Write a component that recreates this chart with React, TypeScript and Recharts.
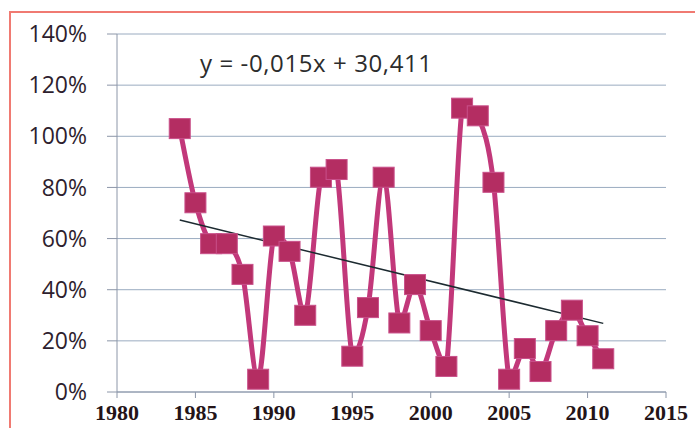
import React from 'react';
import { LineChart, Line, XAxis, YAxis, CartesianGrid } from 'recharts';

// Yearly share, 1984-2011
const years = [
  1984, 1985, 1986, 1987, 1988, 1989, 1990, 1991, 1992, 1993, 1994, 1995, 1996, 1997,
  1998, 1999, 2000, 2001, 2002, 2003, 2004, 2005, 2006, 2007, 2008, 2009, 2010, 2011,
];
const shares = [
  1.03, 0.74, 0.58, 0.58, 0.46, 0.05, 0.61, 0.55, 0.30, 0.84, 0.87, 0.14, 0.33, 0.84,
  0.27, 0.42, 0.24, 0.10, 1.11, 1.08, 0.82, 0.05, 0.17, 0.08, 0.24, 0.32, 0.22, 0.13,
];
const yTicks = [0, 0.2, 0.4, 0.6, 0.8, 1.0, 1.2, 1.4];
const xTicks = [1980, 1985, 1990, 1995, 2000, 2005, 2010, 2015];
const equation = 'y = -0,015x + 30,411';

const chartData = years.map((year, i) => ({ year, share: shares[i] }));

// least-squares fit for the trendline
const n = years.length;
const meanX = years.reduce((s, v) => s + v, 0) / n;
const meanY = shares.reduce((s, v) => s + v, 0) / n;
let sxy = 0;
let sxx = 0;
years.forEach((x, i) => {
  sxy += (x - meanX) * (shares[i] - meanY);
  sxx += (x - meanX) * (x - meanX);
});
const slope = sxy / sxx;
const intercept = meanY - slope * meanX;
const trendData = [years[0], years[n - 1]].map((year) => ({ year, trend: intercept + slope * year }));

// smoothed line: Catmull-Rom handles, kept vertically inside each segment
const smoothCurve = (context: any) => {
  let pts: [number, number][] = [];
  const clampY = (v: number, a: number, b: number) => Math.min(Math.max(v, Math.min(a, b)), Math.max(a, b));
  return {
    areaStart() {},
    areaEnd() {},
    lineStart() {
      pts = [];
    },
    lineEnd() {
      if (!pts.length) return;
      context.moveTo(pts[0][0], pts[0][1]);
      for (let i = 0; i < pts.length - 1; i++) {
        const p0 = pts[Math.max(i - 1, 0)];
        const p1 = pts[i];
        const p2 = pts[i + 1];
        const p3 = pts[Math.min(i + 2, pts.length - 1)];
        context.bezierCurveTo(
          p1[0] + (p2[0] - p0[0]) / 6,
          clampY(p1[1] + (p2[1] - p0[1]) / 6, p1[1], p2[1]),
          p2[0] - (p3[0] - p1[0]) / 6,
          clampY(p2[1] - (p3[1] - p1[1]) / 6, p1[1], p2[1]),
          p2[0],
          p2[1]
        );
      }
    },
    point(x: number, y: number) {
      pts.push([x, y]);
    },
  };
};

const SquareDot = (props: any) => {
  const { cx, cy } = props;
  if (cx == null || cy == null) return null;
  return (
    <rect
      x={cx - 10.5}
      y={cy - 10}
      width={21}
      height={20}
      fill="#b42d62"
      stroke="#c9508a"
      strokeWidth={1}
    />
  );
};

const App = () => {
  return (
    <div style={{ position: 'absolute', left: 0, top: 0, width: 695, height: 428, background: '#fff', overflow: 'hidden' }}>
      <div
        style={{
          position: 'absolute',
          left: 9,
          top: 11,
          width: 720,
          height: 440,
          border: '2px solid #f07a72',
          boxSizing: 'border-box',
        }}
      />
      <LineChart
        width={695}
        height={428}
        data={chartData}
        margin={{ top: 34, right: 29, bottom: 0, left: 0 }}
        style={{ position: 'absolute', left: 0, top: 0 }}
      >
        <CartesianGrid horizontal vertical={false} stroke="#9aabc0" strokeWidth={1} />
        <XAxis
          dataKey="year"
          type="number"
          domain={[1980, 2015]}
          ticks={xTicks}
          allowDataOverflow
          height={36}
          tickSize={6}
          tickMargin={6}
          axisLine={{ stroke: '#8c96a8' }}
          tickLine={{ stroke: '#8c96a8' }}
          tick={{ fill: '#241418', fontSize: 22, fontWeight: 'bold', fontFamily: 'Liberation Serif' }}
        />
        <YAxis
          type="number"
          domain={[0, 1.4]}
          ticks={yTicks}
          width={117}
          tickSize={10}
          tickMargin={20}
          axisLine={{ stroke: '#8c96a8' }}
          tickLine={{ stroke: '#8c96a8' }}
          tickFormatter={(v: number) => `${Math.round(v * 100)}%`}
          tick={{ fill: '#2e1e2e', fontSize: 23, fontFamily: 'Open Sans' }}
        />
        <Line
          dataKey="share"
          type={smoothCurve as any}
          stroke="#c2387a"
          strokeWidth={5}
          dot={<SquareDot />}
          activeDot={false}
          isAnimationActive={false}
        />
        <Line
          data={trendData}
          dataKey="trend"
          type="linear"
          stroke="#1c2a30"
          strokeWidth={1.5}
          dot={false}
          activeDot={false}
          isAnimationActive={false}
        />
      </LineChart>
      <div
        style={{
          position: 'absolute',
          left: 200,
          top: 47,
          fontFamily: 'Open Sans',
          fontSize: 24,
          letterSpacing: 0.6,
          color: '#2c2c2c',
          whiteSpace: 'nowrap',
          lineHeight: '32px',
        }}
      >
        {equation}
      </div>
    </div>
  );
};

export default App;
